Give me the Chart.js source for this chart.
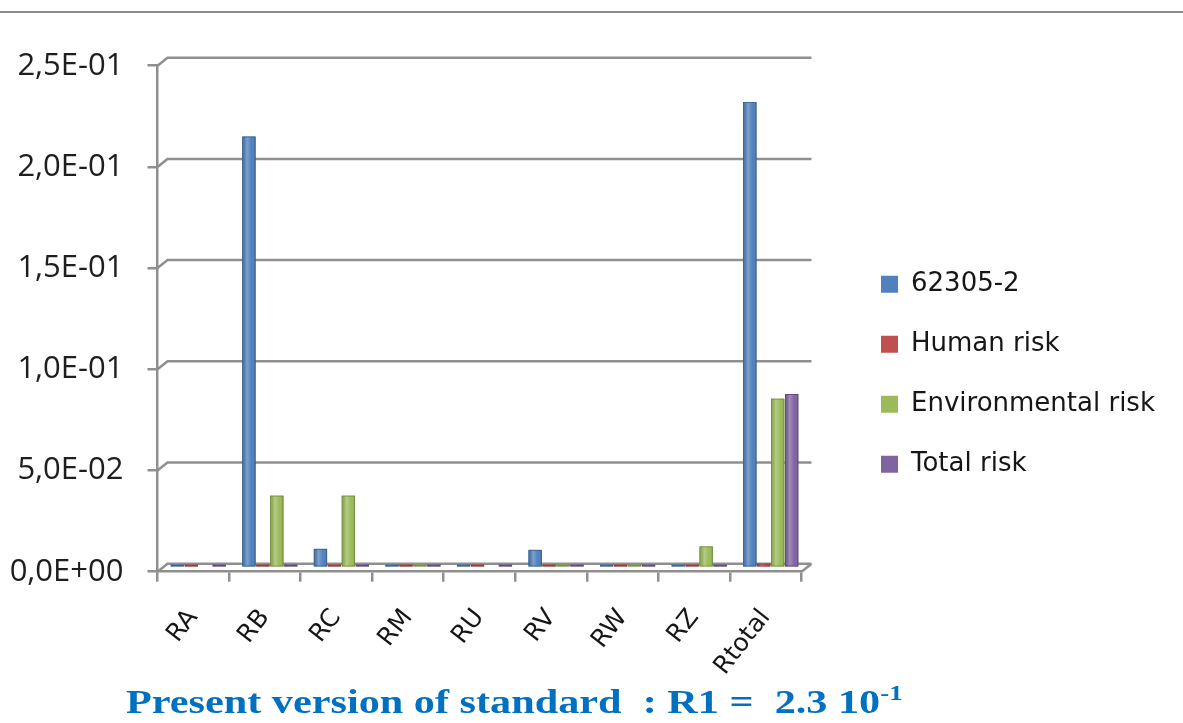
<!DOCTYPE html>
<html>
<head>
<meta charset="utf-8">
<script src="https://cdn.jsdelivr.net/npm/chart.js@4.4.1/dist/chart.umd.min.js"></script>
<style>
  html, body { margin: 0; padding: 0; background: #fff; }
  #wrap { position: relative; width: 1183px; height: 723px; overflow: hidden; }
  #rule { position: absolute; left: 0; top: 11px; width: 1183px; height: 2px; background: #8c8c8c; }
  #chart { position: absolute; left: 0; top: 0; }
  #caption {
    position: absolute; left: 126px; top: 686px;
    font: bold 33px "Liberation Serif", "Times New Roman", serif;
    line-height: 33px; color: #0070C0; white-space: pre;
    transform: scaleX(1.28); transform-origin: 0 0;
  }
  #caption sup { font-size: 21px; line-height: 0; vertical-align: 13px; }
</style>
</head>
<body>
<div id="wrap">
  <div id="rule"></div>
  <canvas id="chart" width="1183" height="723"></canvas>
  <div id="caption">Present version of standard  : R1 =  2.3 10<sup>-1</sup></div>
</div>
<script>
// Risk components per category
const categories = ['RA', 'RB', 'RC', 'RM', 'RU', 'RV', 'RW', 'RZ', 'Rtotal'];
const series62305 = [0, 0.213, 0.0093, 0, 0, 0.0088, 0, 0.0008, 0.23];
const humanRisk = [0, 0.0012, 0.0012, 0, 0, 0, 0, 0.0008, 0.002];
const environmentalRisk = [null, 0.0356, 0.0356, 0, null, 0.0008, 0.0008, 0.0105, 0.0835];
const totalRisk = [0, 0.0005, 0, 0, 0, 0, 0, 0, 0.0858];
const seriesNames = ['62305-2', 'Human risk', 'Environmental risk', 'Total risk'];
const yTicks = [0, 0.05, 0.1, 0.15, 0.2, 0.25];

const COLORS = ['#4F81BD', '#C0504D', '#9BBB59', '#8064A2'];
const EDGES = ['#385D8A', '#8C3836', '#71893F', '#5C4776'];
const GRID = '#8f8f8f';
const DX = 10, DY = -8;           // depth of the floor / side wall
const LEG_FONT = { family: 'DejaVu Sans', size: 26 };
const LEG_PAD = 34, LEG_BOX = 17;

// "2,5E-01" style labels
function sci(v) {
  if (Math.abs(v) < 1e-12) return '0,0E+00';
  const [m, e] = v.toExponential(1).split('e');
  const n = parseInt(e, 10);
  return m.replace('.', ',') + 'E' + (n < 0 ? '-' : '+') + String(Math.abs(n)).padStart(2, '0');
}

// place the legend so its items start at a fixed column
const mctx = document.createElement('canvas').getContext('2d');
mctx.font = LEG_FONT.size + 'px "' + LEG_FONT.family + '"';
const maxText = Math.max(...seriesNames.map(s => mctx.measureText(s).width));
const legendWidth = LEG_PAD + LEG_BOX + LEG_FONT.size / 2 + maxText + 10;
const LEG_X = 881, PLOT_RIGHT = 801.5;
const padRight = Math.max(0, 1183 - legendWidth + LEG_PAD - LEG_X);
const gapWidth = (1183 - padRight - legendWidth) - PLOT_RIGHT;
const PAD_BOTTOM = 40;

const depth3d = {
  id: 'depth3d',
  beforeDatasetsDraw(chart) {
    const { ctx, chartArea: a, scales: { y } } = chart;
    ctx.save();
    ctx.strokeStyle = GRID;
    ctx.lineWidth = 2.5;
    yTicks.forEach(v => {
      const py = y.getPixelForValue(v);
      ctx.beginPath();
      ctx.moveTo(a.left, py);
      ctx.lineTo(a.left + DX, py + DY);
      ctx.lineTo(a.right + DX, py + DY);
      if (v === 0) {
        ctx.moveTo(a.right, py);
        ctx.lineTo(a.right + DX, py + DY);
      }
      ctx.stroke();
    });
    ctx.restore();
    // bars stand half-way into the depth
    ctx.save();
    ctx.translate(DX / 2, DY / 2);
  },
  afterDatasetsDraw(chart) {
    const { ctx } = chart;
    chart.data.datasets.forEach((ds, di) => {
      const meta = chart.getDatasetMeta(di);
      meta.data.forEach((el, i) => {
        if (ds.data[i] === null || ds.data[i] === undefined) return;
        const { x, y, base, width } = el.getProps(['x', 'y', 'base', 'width'], true);
        const l = x - width / 2, top = Math.min(y, base), h = Math.abs(base - y);
        const g = ctx.createLinearGradient(l, 0, l + width, 0);
        g.addColorStop(0, 'rgba(0,0,0,0.08)');
        g.addColorStop(0.35, 'rgba(255,255,255,0.26)');
        g.addColorStop(0.7, 'rgba(255,255,255,0)');
        g.addColorStop(1, 'rgba(0,0,0,0.16)');
        ctx.fillStyle = g;
        ctx.fillRect(l, top, width, h);
        ctx.strokeStyle = EDGES[di];
        ctx.lineWidth = 0.8;
        ctx.strokeRect(l + 0.4, top + 0.4, width - 0.8, h - 0.8);
      });
    });
    ctx.restore();
  }
};

const values = [series62305, humanRisk, environmentalRisk, totalRisk];

new Chart(document.getElementById('chart'), {
  type: 'bar',
  data: {
    labels: categories,
    datasets: values.map((d, i) => ({
      label: seriesNames[i],
      data: d,
      backgroundColor: COLORS[i],
      borderWidth: 0,
      minBarLength: 3,
      categoryPercentage: 0.78,
      barPercentage: 0.95,
      clip: false
    }))
  },
  options: {
    responsive: false,
    animation: false,
    devicePixelRatio: 1,
    layout: { padding: { top: 65.7, left: 0, right: padRight, bottom: PAD_BOTTOM } },
    plugins: {
      tooltip: { enabled: false },
      legend: {
        position: 'right',
        maxWidth: 600,
        labels: {
          boxWidth: LEG_BOX, boxHeight: LEG_BOX, padding: LEG_PAD,
          color: '#161616', font: LEG_FONT
        }
      }
    },
    scales: {
      x: {
        grid: { drawOnChartArea: false, offset: true, tickLength: 10, tickColor: GRID, lineWidth: 2.5 },
        border: { display: true, color: GRID, width: 2.5 },
        ticks: {
          color: '#161616', font: { family: 'DejaVu Sans', size: 25 },
          minRotation: 52, maxRotation: 52, autoSkip: false, padding: 22
        },
        afterFit(s) { s.height = 723 - PAD_BOTTOM - 571.7; }
      },
      y: {
        min: 0, max: 0.25,
        afterBuildTicks(s) { s.ticks = yTicks.map(v => ({ value: v })); },
        grid: { drawOnChartArea: false, tickLength: 10, tickColor: GRID, lineWidth: 2.5 },
        border: { display: true, color: GRID, width: 2.5 },
        ticks: {
          color: '#1e1e1e', font: { family: 'Open Sans', size: 31 }, padding: 24,
          callback: v => sci(v)
        },
        afterFit(s) { s.width = 157.5; }
      },
      gap: {
        type: 'linear', position: 'right', display: true,
        grid: { display: false }, border: { display: false }, ticks: { display: false },
        afterFit(s) { s.width = gapWidth; }
      }
    }
  },
  plugins: [depth3d]
});
</script>
</body>
</html>
